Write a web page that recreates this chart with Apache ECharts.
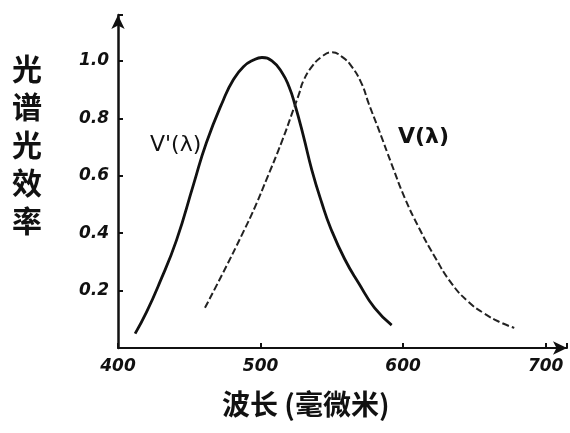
<!DOCTYPE html>
<html>
<head>
<meta charset="utf-8">
<script src="https://cdn.jsdelivr.net/npm/echarts@6/dist/echarts.min.js"></script>
<style>
html, body { margin: 0; padding: 0; background: #fff; }
#main { width: 570px; height: 433px; }
</style>
</head>
<body>
<div id="main"></div>
<script>
// 暗视觉 V'(λ) —— 读图估计
var scotopicWl  = [412, 420, 429, 441, 453, 462, 474, 481, 488, 495, 501, 508, 515, 520, 524, 530, 536, 543, 549, 559, 569, 580, 592];
var scotopicVal = [0.05, 0.125, 0.225, 0.375, 0.57, 0.715, 0.865, 0.935, 0.98, 1.003, 1.012, 1.0, 0.96, 0.91, 0.85, 0.74, 0.62, 0.505, 0.42, 0.31, 0.225, 0.14, 0.08];

// 明视觉 V(λ)
var photopicWl  = [461, 474, 487, 496, 504, 515, 523, 527, 530, 536, 543, 550, 557, 564, 571, 576, 583, 592, 601, 611, 622, 634, 646, 657, 668, 678];
var photopicVal = [0.14, 0.265, 0.395, 0.49, 0.585, 0.72, 0.83, 0.885, 0.93, 0.98, 1.015, 1.03, 1.015, 0.98, 0.92, 0.85, 0.76, 0.64, 0.525, 0.42, 0.32, 0.225, 0.16, 0.12, 0.09, 0.07];

var xTicks = [400, 500, 600, 700];
var yTicks = [0.2, 0.4, 0.6, 0.8, 1.0];

function pairs(xs, ys) {
	var out = [];
	for (var i = 0; i < xs.length; i++) {
		out.push([xs[i], ys[i]]);
	}
	return out;
}

var chart = echarts.init(document.getElementById('main'));
var option = {
	backgroundColor: '#fff',
	animation: false,
	grid: { left: 118, right: 1, top: 15, bottom: 85 },
	xAxis: {
		type: 'value', min: 400, max: 715, interval: 100,
		axisLine: { show: true, symbol: ['none', 'arrow'], symbolSize: [10, 14],
			lineStyle: { color: '#111', width: 2 } },
		axisTick: { show: true, inside: true, length: 5, lineStyle: { color: '#111', width: 2 } },
		splitLine: { show: false },
		axisLabel: {
			margin: 10, color: '#111', fontSize: 17, fontStyle: 'italic', fontWeight: 'bold',
			fontFamily: 'DejaVu Sans',
			formatter: function (v) { return xTicks.indexOf(v) >= 0 ? String(v) : ''; }
		}
	},
	yAxis: {
		type: 'value', min: 0, max: 1.16, interval: 0.2,
		axisLine: { show: true, symbol: ['none', 'arrow'], symbolSize: [10, 14],
			lineStyle: { color: '#111', width: 2.5 } },
		axisTick: { show: true, inside: true, length: 5, lineStyle: { color: '#111', width: 2 } },
		splitLine: { show: false },
		axisLabel: {
			margin: 9, color: '#111', fontSize: 17, fontStyle: 'italic', fontWeight: 'bold',
			fontFamily: 'DejaVu Sans',
			formatter: function (v) {
				for (var i = 0; i < yTicks.length; i++) {
					if (Math.abs(yTicks[i] - v) < 1e-6) return yTicks[i].toFixed(1);
				}
				return '';
			}
		}
	},
	graphic: [
		{ type: 'text', left: 12, top: 50, style: {
			text: '光\n谱\n光\n效\n率', fill: '#111', font: 'bold 30px "Noto Sans CJK SC"', lineHeight: 38 } },
		{ type: 'text', left: 222, top: 390, style: {
			text: '波长 (毫微米)', fill: '#111', font: 'bold 28px "Noto Sans CJK SC"' } },
		{ type: 'text', left: 150, top: 134, style: {
			text: "V'(λ)", fill: '#111', font: '22px "DejaVu Sans"' } },
		{ type: 'text', left: 398, top: 126, style: {
			text: 'V(λ)', fill: '#111', font: 'bold 22px "DejaVu Sans"' } }
	],
	series: [
		{
			name: "V'(λ)", type: 'line', smooth: 0.5, showSymbol: false,
			data: pairs(scotopicWl, scotopicVal),
			lineStyle: { color: '#111', width: 2.8 }
		},
		{
			name: 'V(λ)', type: 'line', smooth: 0.5, showSymbol: false,
			data: pairs(photopicWl, photopicVal),
			lineStyle: { color: '#222', width: 2, type: [7, 3] }
		}
	]
};
chart.setOption(option);
</script>
</body>
</html>
